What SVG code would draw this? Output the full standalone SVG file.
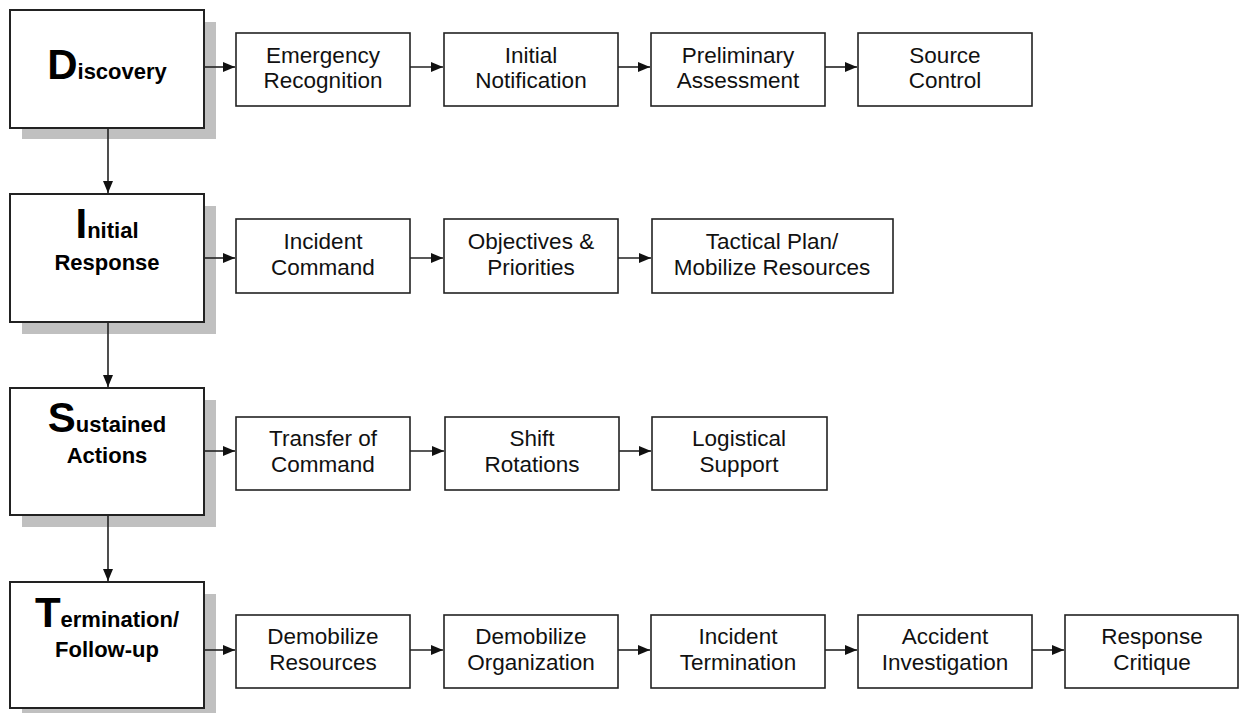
<svg xmlns="http://www.w3.org/2000/svg" width="1239" height="713" viewBox="0 0 1239 713">
<defs>
<style>
.shadow{fill:#c0c0c0;stroke:none}
.big{fill:#fff;stroke:#222;stroke-width:2}
.box{fill:#fff;stroke:#222;stroke-width:1.6}
.t{font-family:"Liberation Sans",Arial,sans-serif;font-size:22.5px;fill:#111;text-anchor:middle}
.h{font-family:"Liberation Sans",Arial,sans-serif;font-size:22px;font-weight:bold;fill:#000;text-anchor:middle}
.cap{font-size:42px}
.c{stroke:#222;stroke-width:1.6;fill:none;marker-end:url(#ah)}
</style>
<marker id="ah" viewBox="0 0 12 10" refX="12" refY="5" markerWidth="12" markerHeight="10" markerUnits="userSpaceOnUse" orient="auto">
<path d="M0,0 L12,5 L0,10 Z" fill="#111"/>
</marker>
</defs>
<rect width="1239" height="713" fill="#fff"/>
<g id="discovery">
<rect class="shadow" x="22" y="22" width="194" height="117"/>
<rect class="big" x="10" y="10" width="194" height="118"/>
<text class="h" x="107" y="79"><tspan class="cap">D</tspan>iscovery</text>
</g>
<g id="initial-response">
<rect class="shadow" x="22" y="206" width="194" height="128"/>
<rect class="big" x="10" y="194" width="194" height="128"/>
<text class="h" x="107" y="238"><tspan class="cap">I</tspan>nitial</text>
<text class="h" x="107" y="270">Response</text>
</g>
<g id="sustained-actions">
<rect class="shadow" x="22" y="400" width="194" height="127"/>
<rect class="big" x="10" y="388" width="194" height="127"/>
<text class="h" x="107" y="432"><tspan class="cap">S</tspan>ustained</text>
<text class="h" x="107" y="463">Actions</text>
</g>
<g id="termination">
<rect class="shadow" x="22" y="594" width="194" height="126"/>
<rect class="big" x="10" y="582" width="194" height="126"/>
<text class="h" x="107" y="627"><tspan class="cap">T</tspan>ermination/</text>
<text class="h" x="107" y="657">Follow-up</text>
</g>
<g id="emergency-recognition"><rect class="box" x="236" y="33" width="174" height="73"/><text class="t" x="323" y="63">Emergency</text><text class="t" x="323" y="88">Recognition</text></g>
<g id="initial-notification"><rect class="box" x="444" y="33" width="174" height="73"/><text class="t" x="531" y="63">Initial</text><text class="t" x="531" y="88">Notification</text></g>
<g id="preliminary-assessment"><rect class="box" x="651" y="33" width="174" height="73"/><text class="t" x="738" y="63">Preliminary</text><text class="t" x="738" y="88">Assessment</text></g>
<g id="source-control"><rect class="box" x="858" y="33" width="174" height="73"/><text class="t" x="945" y="63">Source</text><text class="t" x="945" y="88">Control</text></g>
<g id="incident-command"><rect class="box" x="236" y="219" width="174" height="74"/><text class="t" x="323" y="249">Incident</text><text class="t" x="323" y="275">Command</text></g>
<g id="objectives-priorities"><rect class="box" x="444" y="219" width="174" height="74"/><text class="t" x="531" y="249">Objectives &amp;</text><text class="t" x="531" y="275">Priorities</text></g>
<g id="tactical-plan"><rect class="box" x="652" y="219" width="241" height="74"/><text class="t" x="772" y="249">Tactical Plan/</text><text class="t" x="772" y="275">Mobilize Resources</text></g>
<g id="transfer-command"><rect class="box" x="236" y="417" width="174" height="73"/><text class="t" x="323" y="446">Transfer of</text><text class="t" x="323" y="472">Command</text></g>
<g id="shift-rotations"><rect class="box" x="445" y="417" width="174" height="73"/><text class="t" x="532" y="446">Shift</text><text class="t" x="532" y="472">Rotations</text></g>
<g id="logistical-support"><rect class="box" x="652" y="417" width="175" height="73"/><text class="t" x="739" y="446">Logistical</text><text class="t" x="739" y="472">Support</text></g>
<g id="demobilize-resources"><rect class="box" x="236" y="615" width="174" height="73"/><text class="t" x="323" y="644">Demobilize</text><text class="t" x="323" y="670">Resources</text></g>
<g id="demobilize-organization"><rect class="box" x="444" y="615" width="174" height="73"/><text class="t" x="531" y="644">Demobilize</text><text class="t" x="531" y="670">Organization</text></g>
<g id="incident-termination"><rect class="box" x="651" y="615" width="174" height="73"/><text class="t" x="738" y="644">Incident</text><text class="t" x="738" y="670">Termination</text></g>
<g id="accident-investigation"><rect class="box" x="858" y="615" width="174" height="73"/><text class="t" x="945" y="644">Accident</text><text class="t" x="945" y="670">Investigation</text></g>
<g id="response-critique"><rect class="box" x="1065" y="615" width="173" height="73"/><text class="t" x="1152" y="644">Response</text><text class="t" x="1152" y="670">Critique</text></g>
<g id="connectors">
<line class="c" x1="108" y1="129" x2="108" y2="193"/>
<line class="c" x1="108" y1="323" x2="108" y2="387"/>
<line class="c" x1="108" y1="516" x2="108" y2="581"/>
<line class="c" x1="205" y1="67" x2="235" y2="67"/>
<line class="c" x1="410" y1="67" x2="443" y2="67"/>
<line class="c" x1="618" y1="67" x2="650" y2="67"/>
<line class="c" x1="825" y1="67" x2="857" y2="67"/>
<line class="c" x1="205" y1="258" x2="235" y2="258"/>
<line class="c" x1="410" y1="258" x2="443" y2="258"/>
<line class="c" x1="618" y1="258" x2="651" y2="258"/>
<line class="c" x1="205" y1="451" x2="235" y2="451"/>
<line class="c" x1="410" y1="451" x2="444" y2="451"/>
<line class="c" x1="619" y1="451" x2="651" y2="451"/>
<line class="c" x1="205" y1="650" x2="235" y2="650"/>
<line class="c" x1="410" y1="650" x2="443" y2="650"/>
<line class="c" x1="618" y1="650" x2="650" y2="650"/>
<line class="c" x1="825" y1="650" x2="857" y2="650"/>
<line class="c" x1="1032" y1="650" x2="1064" y2="650"/>
</g>
</svg>
